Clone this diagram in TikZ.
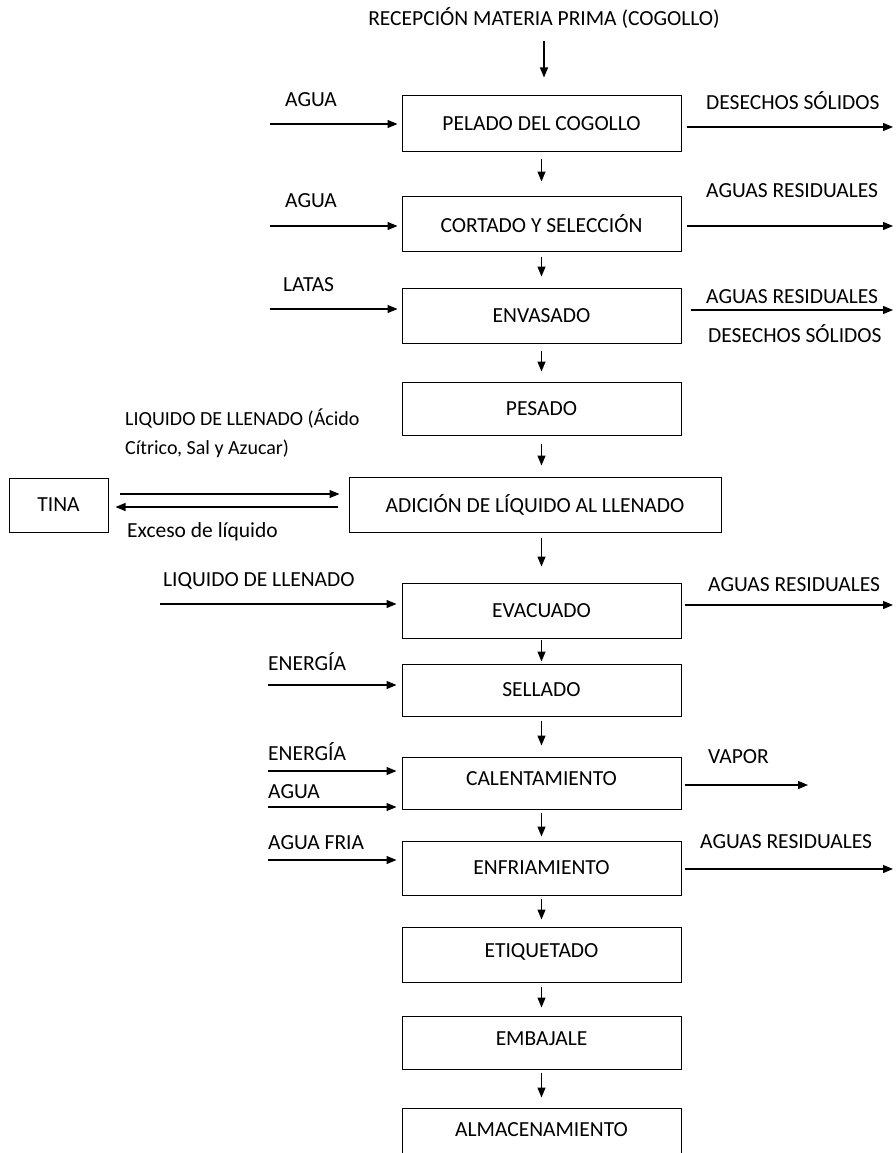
\documentclass[tikz,border=0pt]{standalone}
\usepackage{fontspec}
\setmainfont{Carlito}
\usetikzlibrary{arrows.meta}
\begin{document}
\begin{tikzpicture}[x=1pt,y=-1pt,
  box/.style={draw, line width=1pt, inner sep=0pt, minimum width=279pt, font=\fontsize{21.5}{25}\selectfont},
  lbl/.style={inner sep=0pt, anchor=west, font=\fontsize{21.5}{25}\selectfont},
  arr/.style={line width=1.2pt, -{Triangle[length=10pt,width=8pt]}}]
\useasboundingbox (0,0) rectangle (896,1153);
% title
\node[inner sep=0pt, font=\fontsize{21.5}{25}\selectfont] (title) at (544,18) {RECEPCIÓN MATERIA PRIMA (COGOLLO)};
% boxes
\node[box, minimum height=55pt] (pel) at (541.5,123.5) {PELADO DEL COGOLLO};
\node[box, minimum height=55pt] (cor) at (541.5,223.5) {CORTADO Y SELECCIÓN};
\node[box, minimum height=55pt] (env) at (541.5,315.5) {ENVASADO};
\node[box, minimum height=53pt] (pes) at (541.5,408.5) {PESADO};
\node[box, minimum height=55pt, minimum width=372pt] (adi) at (535,504.5) {ADICIÓN DE LÍQUIDO AL LLENADO};
\node[box, minimum height=55pt] (eva) at (541.5,610.5) {EVACUADO};
\node[box, minimum height=52pt] (sel) at (541.5,690) {SELLADO};
\node[box, minimum height=52pt] (cal) at (541.5,783) {};
\node[lbl, anchor=center] (calt) at (541.5,779) {CALENTAMIENTO};
\node[box, minimum height=54pt] (enf) at (541.5,868) {ENFRIAMIENTO};
\node[box, minimum height=55pt] (eti) at (541.5,954.5) {};
\node[lbl, anchor=center] (etit) at (541.5,952) {ETIQUETADO};
\node[box, minimum height=53pt] (emb) at (541.5,1042.5) {};
\node[lbl, anchor=center] (embt) at (541.5,1039) {EMBAJALE};
\node[box, minimum height=55pt] (alm) at (541.5,1135.5) {};
\node[lbl, anchor=center] (almt) at (541.5,1130) {ALMACENAMIENTO};
\node[box, minimum height=54pt, minimum width=99pt] (tina) at (58.5,505) {TINA};
% vertical flow
\draw[arr, shorten <=12pt, shorten >=18pt] (title.south) -- (title.south |- pel.north);
\draw[arr, shorten <=7pt, shorten >=14pt] (pel.south) -- (cor.north);
\draw[arr, shorten <=5pt, shorten >=11pt] (cor.south) -- (env.north);
\draw[arr, shorten <=7pt, shorten >=10pt] (env.south) -- (pes.north);
\draw[arr, shorten <=8pt, shorten >=11pt] (pes.south) -- (pes.south |- adi.north);
\draw[arr, shorten <=5pt, shorten >=16pt] (pes.south |- adi.south) -- (eva.north);
\draw[arr, shorten <=1pt, shorten >=2pt] (eva.south) -- (sel.north);
\draw[arr, shorten <=4pt, shorten >=11pt] (sel.south) -- (cal.north);
\draw[arr, shorten <=3pt, shorten >=4pt] (cal.south) -- (enf.north);
\draw[arr, shorten <=3pt, shorten >=7pt] (enf.south) -- (eti.north);
\draw[arr, shorten <=4pt, shorten >=8pt] (eti.south) -- (emb.north);
\draw[arr, shorten <=3pt, shorten >=10pt] (emb.south) -- (alm.north);
% left inputs
\coordinate (i1) at (270,124);
\coordinate (i2) at (270,226);
\coordinate (i3) at (270,309);
\coordinate (i6) at (160,604);
\coordinate (i7) at (268,685);
\coordinate (i8) at (268,771);
\coordinate (i9) at (268,807);
\coordinate (i10) at (268,860);
\draw[arr, shorten >=4pt] (i1) -- (i1 -| pel.west);
\draw[arr, shorten >=4pt] (i2) -- (i2 -| cor.west);
\draw[arr, shorten >=4pt] (i3) -- (i3 -| env.west);
\draw[arr, shorten >=5pt] (i6) -- (i6 -| eva.west);
\draw[arr, shorten >=5pt] (i7) -- (i7 -| sel.west);
\draw[arr, shorten >=5pt] (i8) -- (i8 -| cal.west);
\draw[arr, shorten >=5pt] (i9) -- (i9 -| cal.west);
\draw[arr, shorten >=5pt] (i10) -- (i10 -| enf.west);
\node[lbl] (l1) at (285,100) {AGUA};
\node[lbl] (l2) at (285,201) {AGUA};
\node[lbl] (l3) at (283,285) {LATAS};
\node[lbl] (l6) at (163,581) {LIQUIDO DE LLENADO};
\node[lbl] (l7) at (268,662) {ENERGÍA};
\node[lbl] (l8) at (268,752) {ENERGÍA};
\node[lbl] (l9) at (268,792) {AGUA};
\node[lbl] (l10) at (268,843) {AGUA FRIA};
% right outputs
\coordinate (o1) at (893,127);
\coordinate (o2) at (893,226);
\coordinate (o3) at (893,310);
\coordinate (o6) at (893,605);
\coordinate (o8) at (808,785);
\coordinate (o10) at (893,869);
\draw[arr, shorten <=5pt] (o1 -| pel.east) -- (o1);
\draw[arr, shorten <=5pt] (o2 -| cor.east) -- (o2);
\draw[arr, shorten <=9pt] (o3 -| env.east) -- (o3);
\draw[arr, shorten <=3pt] (o6 -| eva.east) -- (o6);
\draw[arr, shorten <=3pt] (o8 -| cal.east) -- (o8);
\draw[arr, shorten <=3pt] (o10 -| enf.east) -- (o10);
\node[lbl] (r1) at (706,101) {DESECHOS SÓLIDOS};
\node[lbl] (r2) at (706,191) {AGUAS RESIDUALES};
\node[lbl] (r3) at (706,297) {AGUAS RESIDUALES};
\node[lbl] (r3b) at (708,334) {DESECHOS SÓLIDOS};
\node[lbl] (r6) at (708,585) {AGUAS RESIDUALES};
\node[lbl] (r8) at (708,757) {VAPOR};
\node[lbl] (r10) at (700,842) {AGUAS RESIDUALES};
% tina exchange
\coordinate (t1) at (120,494);
\coordinate (t2) at (338,507);
\draw[arr, shorten >=9pt] (t1) -- (t1 -| adi.west);
\draw[arr, shorten >=7pt] (t2) -- (t2 -| tina.east);
\node[lbl, font=\fontsize{20}{24}\selectfont] (lq1) at (125,419) {LIQUIDO DE LLENADO (Ácido};
\node[lbl, font=\fontsize{20}{24}\selectfont] (lq2) at (125,449) {Cítrico, Sal y Azucar)};
\node[lbl] (ex) at (127,532) {Exceso de líquido};
\end{tikzpicture}
\end{document}
